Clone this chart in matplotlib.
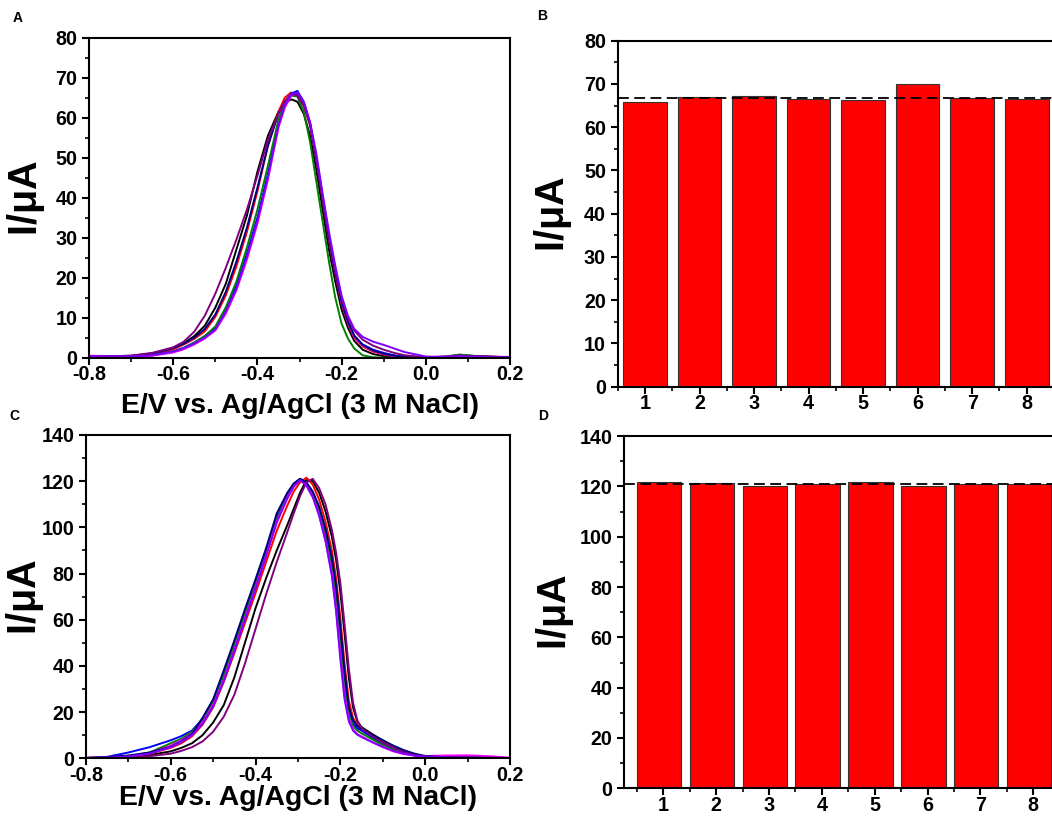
import matplotlib.pyplot as plt
from matplotlib.ticker import MultipleLocator

plt.rcParams['font.family'] = ['Liberation Sans', 'DejaVu Sans']
plt.rcParams['font.weight'] = 'bold'

# ---- data ----
# panel A: potential grid and currents (uA) of the 8 repeat scans
E_A = [-0.80, -0.70, -0.65, -0.60, -0.575, -0.55, -0.525, -0.50, -0.475, -0.45,
       -0.425, -0.40, -0.375, -0.35, -0.335, -0.32, -0.305, -0.29, -0.275, -0.26,
       -0.245, -0.23, -0.215, -0.20, -0.185, -0.17, -0.15, -0.125, -0.10, -0.075,
       -0.05, 0.00, 0.05, 0.08, 0.12, 0.20]
A_black = [0.2, 0.4, 1.0, 2.3, 3.6, 5.4, 8.0, 12.5, 18.5, 27.0, 35.5, 46.5, 55.5, 61.5, 63.5,
           64.6, 64.0, 61.0, 55.5, 47.0, 37.0, 27.0, 19.0, 12.0, 7.5, 4.2, 2.0, 0.9, 0.4, 0.2,
           0.1, 0.1, 0.3, 0.7, 0.4, 0.1]
A_red = [0.2, 0.3, 0.8, 2.1, 3.3, 4.7, 6.6, 10.2, 15.6, 22.8, 31.4, 41.6, 53.0, 61.5, 65.0,
         66.3, 65.5, 63.0, 58.0, 49.5, 39.5, 29.5, 21.0, 13.5, 8.5, 5.0, 2.8, 1.5, 0.8, 0.4,
         0.2, 0.1, 0.2, 0.5, 0.3, 0.1]
A_blue = [0.2, 0.3, 0.7, 1.6, 2.5, 3.8, 5.4, 7.5, 12.0, 18.0, 26.0, 35.0, 46.0, 59.0, 63.5,
          66.0, 66.7, 64.0, 58.5, 50.0, 40.0, 30.0, 21.5, 14.0, 9.0, 5.5, 3.3, 2.0, 1.2, 0.6,
          0.3, 0.1, 0.2, 0.4, 0.2, 0.1]
A_green = [0.1, 0.2, 0.6, 1.5, 2.4, 3.7, 5.4, 7.8, 12.6, 19.0, 27.5, 37.0, 48.0, 59.5, 63.5,
           65.5, 65.3, 61.5, 54.0, 44.0, 34.0, 24.0, 15.0, 8.5, 4.8, 2.3, 0.6, 0.1, 0.0, 0.0,
           0.0, 0.0, 0.3, 0.8, 0.4, 0.1]
A_magenta = [0.5, 0.3, 0.5, 1.3, 2.1, 3.3, 4.8, 6.8, 11.0, 16.8, 24.5, 33.5, 44.5, 57.5, 62.5,
             65.5, 66.0, 63.8, 58.5, 50.0, 40.0, 30.0, 21.5, 13.8, 8.8, 5.2, 3.0, 1.7, 0.9, 0.4,
             0.2, 0.1, 0.3, 0.5, 0.3, 0.2]
A_navy = [0.2, 0.5, 1.1, 2.4, 3.5, 5.0, 7.2, 10.8, 16.5, 24.0, 32.5, 42.5, 53.0, 61.0, 64.0,
          65.8, 66.0, 63.8, 58.5, 50.0, 40.0, 30.0, 21.5, 14.0, 9.0, 5.5, 3.2, 1.8, 1.0, 0.5,
          0.2, 0.1, 0.2, 0.5, 0.3, 0.1]
A_purple = [0.2, 0.5, 1.2, 2.6, 4.0, 6.5, 10.5, 16.0, 22.5, 29.5, 37.0, 45.5, 54.5, 61.0, 64.0,
            66.0, 65.5, 63.0, 58.5, 50.0, 40.0, 30.5, 22.0, 15.0, 10.0, 6.8, 4.5, 3.0, 2.0, 1.2,
            0.6, 0.1, 0.2, 0.5, 0.3, 0.1]
A_violet = [0.3, 0.3, 0.6, 1.5, 2.3, 3.5, 5.0, 7.0, 11.5, 17.3, 25.2, 34.2, 45.2, 58.0, 63.0,
            65.8, 66.3, 64.0, 59.0, 51.0, 41.0, 31.5, 23.0, 15.5, 10.5, 7.2, 5.2, 4.0, 3.2, 2.3,
            1.4, 0.3, 0.2, 0.4, 0.2, 0.1]

# panel C
E_C = [-0.80, -0.75, -0.70, -0.65, -0.60, -0.575, -0.55, -0.525, -0.50, -0.475,
       -0.45, -0.425, -0.40, -0.375, -0.35, -0.325, -0.31, -0.295, -0.28, -0.265,
       -0.25, -0.235, -0.22, -0.21, -0.20, -0.19, -0.18, -0.17, -0.16, -0.15,
       -0.125, -0.10, -0.075, -0.05, -0.025, 0.00, 0.05, 0.10, 0.15, 0.20]
C_black = [0.1, 0.2, 0.5, 1.4, 3.0, 4.5, 6.5, 10.0, 15.5, 23.0, 35.0, 50.0, 65.0, 78.0, 90.0,
           101.0, 108.0, 115.0, 120.5, 120.0, 115.0, 107.0, 96.0, 86.0, 72.0, 54.0, 35.0, 22.0,
           16.0, 13.5, 10.5, 7.8, 5.0, 3.0, 1.6, 0.8, 0.3, 0.3, 0.2, 0.1]
C_red = [0.1, 0.3, 0.8, 2.0, 4.5, 6.5, 9.5, 14.5, 22.0, 33.0, 45.5, 58.5, 71.5, 85.0, 98.5,
         109.5, 115.5, 119.5, 121.5, 118.5, 112.0, 102.5, 90.0, 78.0, 61.0, 41.0, 25.0, 17.5,
         14.5, 12.8, 9.8, 7.2, 5.0, 3.0, 1.7, 0.8, 0.4, 0.3, 0.2, 0.1]
C_blue = [0.0, 0.6, 2.5, 4.8, 7.8, 9.6, 12.0, 17.0, 25.0, 37.0, 50.0, 63.5, 76.5, 90.0, 104.5,
          114.0, 118.5, 121.0, 119.0, 115.0, 108.0, 98.0, 85.0, 72.0, 53.0, 34.0, 20.0, 15.0,
          13.0, 12.0, 9.0, 6.5, 4.5, 2.8, 1.5, 0.6, 0.3, 0.2, 0.1, 0.1]
C_green = [0.1, 0.3, 0.9, 2.5, 6.5, 8.5, 11.5, 16.5, 24.5, 36.0, 49.0, 62.5, 75.5, 89.0, 103.5,
           113.5, 118.5, 121.0, 119.0, 114.5, 107.0, 96.5, 83.0, 69.0, 49.0, 30.0, 18.5, 14.0,
           12.0, 10.8, 8.2, 5.8, 3.8, 2.2, 1.2, 0.5, 0.3, 0.3, 0.2, 0.1]
C_magenta = [0.3, 0.4, 0.9, 2.2, 5.5, 7.8, 10.8, 15.5, 23.0, 34.0, 47.0, 60.5, 74.0, 88.0, 102.5,
             113.0, 118.0, 120.5, 118.5, 113.5, 105.5, 94.5, 80.0, 65.0, 45.0, 27.0, 17.0, 12.5,
             10.5, 9.5, 7.0, 4.8, 3.0, 1.8, 1.2, 1.0, 1.2, 1.3, 0.9, 0.3]
C_navy = [0.2, 0.5, 1.2, 2.5, 5.0, 7.3, 10.5, 17.5, 25.5, 38.0, 51.0, 64.5, 77.5, 91.0, 106.0,
          115.0, 119.0, 121.0, 119.5, 115.5, 109.0, 99.5, 87.0, 75.0, 57.0, 38.0, 22.0, 16.5,
          14.0, 12.8, 10.0, 7.8, 5.5, 3.5, 2.0, 1.0, 0.4, 0.3, 0.2, 0.1]
C_purple = [0.0, 0.1, 0.3, 0.9, 2.0, 3.2, 4.8, 7.3, 11.5, 18.0, 27.5, 41.0, 56.0, 71.0, 85.0,
            98.0, 106.0, 113.5, 119.5, 121.0, 117.0, 110.0, 99.0, 89.0, 76.0, 58.0, 39.0, 24.0,
            16.5, 13.0, 9.5, 6.8, 4.5, 2.6, 1.4, 0.7, 0.3, 0.3, 0.2, 0.1]
C_violet = [0.1, 0.3, 0.8, 2.0, 4.8, 7.0, 10.0, 15.0, 22.5, 33.5, 46.5, 60.0, 73.5, 87.5, 102.0,
            112.5, 117.5, 120.5, 118.0, 113.0, 105.0, 94.0, 79.0, 63.5, 43.0, 25.5, 16.0, 12.0,
            10.2, 9.2, 7.0, 5.0, 3.2, 2.0, 1.2, 0.6, 0.4, 0.3, 0.2, 0.1]

curve_colors = ['black', 'red', 'blue', 'green', 'magenta', 'navy', 'purple', '#8000ff']
curves_A = [A_black, A_red, A_blue, A_green, A_magenta, A_navy, A_purple, A_violet]
curves_C = [C_black, C_red, C_blue, C_green, C_magenta, C_navy, C_purple, C_violet]

# panels B and D: peak currents of 8 electrodes
electrodes = [1, 2, 3, 4, 5, 6, 7, 8]
B_peaks = [65.9, 66.9, 67.3, 66.6, 66.2, 70.0, 66.7, 66.6]
B_ref = 66.7
D_peaks = [121.6, 121.2, 120.3, 121.1, 121.7, 120.3, 121.1, 121.1]
D_ref = 121.1

xlab = 'E/V vs. Ag/AgCl (3 M NaCl)'
ylab = r'I/$\mathregular{\mu}$A'

fig = plt.figure(figsize=(10.52, 8.21), dpi=100)


def style(ax, ymajor, yminor):
    for s in ax.spines.values():
        s.set_linewidth(1.5)
    ax.yaxis.set_major_locator(MultipleLocator(ymajor))
    ax.yaxis.set_minor_locator(MultipleLocator(yminor))
    ax.tick_params(which='major', direction='out', length=5, width=1.5,
                   labelsize=14.2, top=False, right=False)
    ax.tick_params(axis='x', which='major', pad=0.5)
    ax.tick_params(axis='y', which='major', pad=3.5)
    ax.tick_params(which='minor', direction='out', length=3, width=1.2,
                   top=False, right=False)
    for lab in ax.get_xticklabels() + ax.get_yticklabels():
        lab.set_fontweight('bold')


# A
axA = fig.add_axes([0.0846, 0.5643, 0.4002, 0.3898])
for y, c in zip(curves_A, curve_colors):
    axA.plot(E_A, y, color=c, lw=1.4)
axA.set_xlim(-0.8, 0.2)
axA.set_ylim(0, 80)
axA.xaxis.set_major_locator(MultipleLocator(0.2))
axA.xaxis.set_minor_locator(MultipleLocator(0.1))
style(axA, 10, 5)
axA.set_xticks([-0.8, -0.6, -0.4, -0.2, 0.0, 0.2])
axA.set_xticklabels(['-0.8', '-0.6', '-0.4', '-0.2', '0.0', '0.2'], fontweight='bold')
axA.set_xlabel(xlab, fontsize=20.4, fontweight='bold', va='center')
axA.xaxis.set_label_coords(0.5, -0.15)
axA.set_ylabel(ylab, fontsize=28.5, fontweight='bold', va='center')
axA.yaxis.set_label_coords(-0.150, 0.5)

# C
axC = fig.add_axes([0.0817, 0.0764, 0.4030, 0.3938])
for y, c in zip(curves_C, curve_colors):
    axC.plot(E_C, y, color=c, lw=1.4)
axC.set_xlim(-0.8, 0.2)
axC.set_ylim(0, 140)
axC.xaxis.set_major_locator(MultipleLocator(0.2))
axC.xaxis.set_minor_locator(MultipleLocator(0.1))
style(axC, 20, 10)
axC.set_xticks([-0.8, -0.6, -0.4, -0.2, 0.0, 0.2])
axC.set_xticklabels(['-0.8', '-0.6', '-0.4', '-0.2', '0.0', '0.2'], fontweight='bold')
axC.set_xlabel(xlab, fontsize=20.4, fontweight='bold', va='center')
axC.xaxis.set_label_coords(0.5, -0.124)
axC.set_ylabel(ylab, fontsize=28.5, fontweight='bold', va='center')
axC.yaxis.set_label_coords(-0.144, 0.5)

# B
axB = fig.add_axes([0.5872, 0.529, 0.4147, 0.4214])
axB.bar(electrodes, B_peaks, width=0.8, color='red', edgecolor='#333333', lw=0.8)
axB.axhline(B_ref, color='black', lw=1.3, ls=(0, (6, 3)))
axB.set_xlim(0.5, 8.5)
axB.set_ylim(0, 80)
axB.set_xticks(electrodes)
axB.xaxis.set_minor_locator(MultipleLocator(1, offset=0.5))
style(axB, 10, 5)
axB.set_ylabel(ylab, fontsize=28.5, fontweight='bold', va='center')
axB.yaxis.set_label_coords(-0.148, 0.5)

# D
axD = fig.add_axes([0.5934, 0.0398, 0.4265, 0.4291])
axD.bar([e - 0.08 for e in electrodes], D_peaks, width=0.84, color='red',
        edgecolor='#333333', lw=0.8)
axD.axhline(D_ref, color='black', lw=1.3, ls=(0, (6, 3)))
axD.set_xlim(0.26, 8.75)
axD.set_ylim(0, 140)
axD.set_xticks(electrodes)
axD.xaxis.set_minor_locator(MultipleLocator(1, offset=0.5))
style(axD, 20, 10)
axD.set_ylabel(ylab, fontsize=28.5, fontweight='bold', va='center')
axD.yaxis.set_label_coords(-0.154, 0.5)

# panel letters
for txt, px, py in [('A', 18, 18), ('B', 542, 16), ('C', 14, 416), ('D', 543, 416)]:
    fig.text(px / 1052, 1 - py / 821, txt, fontsize=10, fontweight='bold',
             ha='center', va='center')

fig.savefig('out.png', dpi=100)
